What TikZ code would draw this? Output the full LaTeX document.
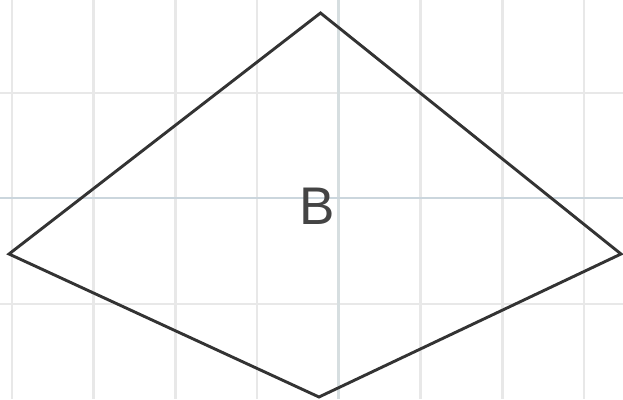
\documentclass[tikz,border=0pt]{standalone}
\usepackage{fontspec}
\setmainfont{Liberation Sans}
\definecolor{gridc}{HTML}{E8E8E8}
\definecolor{axisc}{HTML}{CBD6DD}
\definecolor{axisv}{HTML}{D6DEE0}
\definecolor{edgec}{HTML}{333333}
\definecolor{labc}{HTML}{444444}
\begin{document}
\begin{tikzpicture}[x=1pt,y=-1pt,
  gridline/.style={draw=gridc,line width=2.6pt},
  axisline/.style={draw=axisc,line width=2.8pt},
  vaxisline/.style={draw=axisv,line width=2.6pt},
  kite/.style={draw=edgec,line width=2.9pt,line join=miter},
  lab/.style={text=labc,font=\fontsize{53}{53}\selectfont,inner sep=0pt}]
\useasboundingbox (0,0) rectangle (623,399);
\fill[white] (0,0) rectangle (623,399);
\foreach \x in {12,93.7,175.4,257.1,420.5,502.2,583.9}
  \draw[gridline] (\x,0) -- (\x,399);
\foreach \y in {93,304}
  \draw[gridline] (0,\y) -- (623,\y);
\draw[vaxisline] (338.5,0) -- (338.5,399);
\draw[axisline] (0,198) -- (623,198);
\coordinate (T) at (320.5,13);
\coordinate (L) at (9,254);
\coordinate (R) at (621,254);
\coordinate (D) at (319,397);
\draw[kite] (T) -- (R) -- (D) -- (L) -- cycle;
\node[lab,anchor=base] (B) at (317,224) {B};
\end{tikzpicture}
\end{document}
